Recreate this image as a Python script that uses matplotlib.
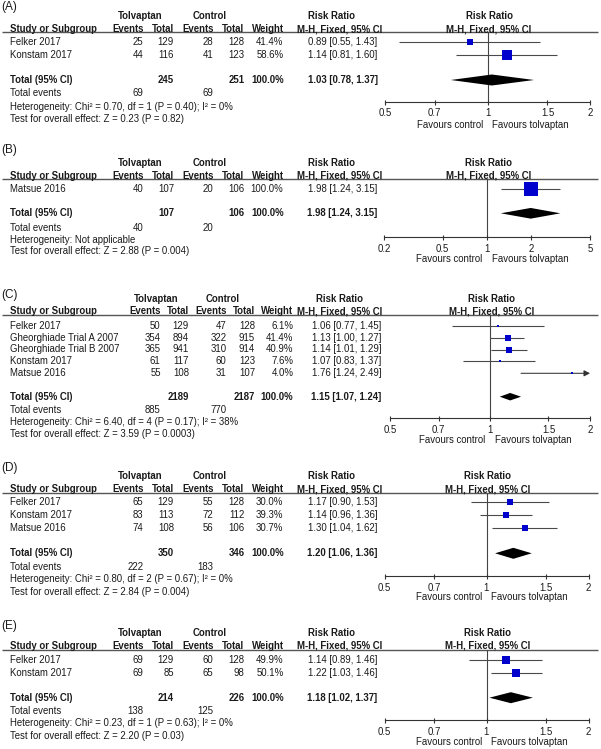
import matplotlib
matplotlib.use('Agg')
import matplotlib.pyplot as plt
from matplotlib.transforms import blended_transform_factory, offset_copy

plt.rcParams['font.family'] = ['Liberation Sans', 'DejaVu Sans']

# ---------------- data ----------------
A_studies = ['Felker 2017', 'Konstam 2017']
A_tol_events = [25, 44]
A_tol_total = [129, 116]
A_ctl_events = [28, 41]
A_ctl_total = [128, 123]
A_weight = [41.4, 58.6]
A_rr = [0.89, 1.14]
A_lo = [0.55, 0.81]
A_hi = [1.43, 1.60]
A_sum_totals = [245, 251]
A_pooled = [1.03, 0.78, 1.37]
A_sum_events = [69, 69]
A_het = 'Heterogeneity: Chi² = 0.70, df = 1 (P = 0.40); I² = 0%'
A_test = 'Test for overall effect: Z = 0.23 (P = 0.82)'
A_ticks = [0.5, 0.7, 1, 1.5, 2]
A_ticklabels = ['0.5', '0.7', '1', '1.5', '2']

B_studies = ['Matsue 2016']
B_tol_events = [40]
B_tol_total = [107]
B_ctl_events = [20]
B_ctl_total = [106]
B_weight = [100.0]
B_rr = [1.98]
B_lo = [1.24]
B_hi = [3.15]
B_sum_totals = [107, 106]
B_pooled = [1.98, 1.24, 3.15]
B_sum_events = [40, 20]
B_het = 'Heterogeneity: Not applicable'
B_test = 'Test for overall effect: Z = 2.88 (P = 0.004)'
B_ticks = [0.2, 0.5, 1, 2, 5]
B_ticklabels = ['0.2', '0.5', '1', '2', '5']

C_studies = ['Felker 2017', 'Gheorghiade Trial A 2007', 'Gheorghiade Trial B 2007',
             'Konstam 2017', 'Matsue 2016']
C_tol_events = [50, 354, 365, 61, 55]
C_tol_total = [129, 894, 941, 117, 108]
C_ctl_events = [47, 322, 310, 60, 31]
C_ctl_total = [128, 915, 914, 123, 107]
C_weight = [6.1, 41.4, 40.9, 7.6, 4.0]
C_rr = [1.06, 1.13, 1.14, 1.07, 1.76]
C_lo = [0.77, 1.00, 1.01, 0.83, 1.24]
C_hi = [1.45, 1.27, 1.29, 1.37, 2.49]
C_sum_totals = [2189, 2187]
C_pooled = [1.15, 1.07, 1.24]
C_sum_events = [885, 770]
C_het = 'Heterogeneity: Chi² = 6.40, df = 4 (P = 0.17); I² = 38%'
C_test = 'Test for overall effect: Z = 3.59 (P = 0.0003)'
C_ticks = [0.5, 0.7, 1, 1.5, 2]
C_ticklabels = ['0.5', '0.7', '1', '1.5', '2']

D_studies = ['Felker 2017', 'Konstam 2017', 'Matsue 2016']
D_tol_events = [65, 83, 74]
D_tol_total = [129, 113, 108]
D_ctl_events = [55, 72, 56]
D_ctl_total = [128, 112, 106]
D_weight = [30.0, 39.3, 30.7]
D_rr = [1.17, 1.14, 1.30]
D_lo = [0.90, 0.96, 1.04]
D_hi = [1.53, 1.36, 1.62]
D_sum_totals = [350, 346]
D_pooled = [1.20, 1.06, 1.36]
D_sum_events = [222, 183]
D_het = 'Heterogeneity: Chi² = 0.80, df = 2 (P = 0.67); I² = 0%'
D_test = 'Test for overall effect: Z = 2.84 (P = 0.004)'
D_ticks = [0.5, 0.7, 1, 1.5, 2]
D_ticklabels = ['0.5', '0.7', '1', '1.5', '2']

E_studies = ['Felker 2017', 'Konstam 2017']
E_tol_events = [69, 69]
E_tol_total = [129, 85]
E_ctl_events = [60, 65]
E_ctl_total = [128, 98]
E_weight = [49.9, 50.1]
E_rr = [1.14, 1.22]
E_lo = [0.89, 1.03]
E_hi = [1.46, 1.46]
E_sum_totals = [214, 226]
E_pooled = [1.18, 1.02, 1.37]
E_sum_events = [138, 125]
E_het = 'Heterogeneity: Chi² = 0.23, df = 1 (P = 0.63); I² = 0%'
E_test = 'Test for overall effect: Z = 2.20 (P = 0.03)'
E_ticks = [0.5, 0.7, 1, 1.5, 2]
E_ticklabels = ['0.5', '0.7', '1', '1.5', '2']

# ---------------- layout (pixels) ----------------
W, H = 601, 749
FS = 6.9
TXT = '#1a1a1a'
BLUE = '#0000CC'

cols_std = dict(te=143.5, tt=174, ce=213.5, ct=244.5, w=283.5, ci=377.5, mh=382,
                tolh=140, ctlh=209.3, rrh=331)
cols_wide = dict(te=160.7, tt=189, ce=226.7, ct=255, w=293.3, ci=381.7, mh=382,
                 tolh=156, ctlh=222.5, rrh=339)

panels = [
    dict(tag='(A)', studies=A_studies, te=A_tol_events, tt=A_tol_total, ce=A_ctl_events,
         ct=A_ctl_total, w=A_weight, rr=A_rr, lo=A_lo, hi=A_hi, tot=A_sum_totals,
         pooled=A_pooled, ev=A_sum_events, het=A_het, test=A_test, ticks=A_ticks,
         tl=A_ticklabels, cols=cols_std,
         label_y=7, head_y=15.7, sub_y=29, line_y=32.3, row0=42.3, step=12.7,
         total_y=80, tev_y=93.3, het_y=107.3, test_y=119.3, axis_y=101.7, fav_y=125,
         fx0=385, fx1=590, dh=11),
    dict(tag='(B)', studies=B_studies, te=B_tol_events, tt=B_tol_total, ce=B_ctl_events,
         ct=B_ctl_total, w=B_weight, rr=B_rr, lo=B_lo, hi=B_hi, tot=B_sum_totals,
         pooled=B_pooled, ev=B_sum_events, het=B_het, test=B_test, ticks=B_ticks,
         tl=B_ticklabels, cols=cols_std,
         label_y=150, head_y=162.7, sub_y=176, line_y=179.3, row0=189.3, step=12.7,
         total_y=213.3, tev_y=228, het_y=240, test_y=251.3, axis_y=237.3, fav_y=258.7,
         fx0=384, fx1=590, dh=10.7),
    dict(tag='(C)', studies=C_studies, te=C_tol_events, tt=C_tol_total, ce=C_ctl_events,
         ct=C_ctl_total, w=C_weight, rr=C_rr, lo=C_lo, hi=C_hi, tot=C_sum_totals,
         pooled=C_pooled, ev=C_sum_events, het=C_het, test=C_test, ticks=C_ticks,
         tl=C_ticklabels, cols=cols_wide,
         label_y=295, head_y=299, sub_y=311, line_y=315, row0=325.7, step=11.9,
         total_y=396.7, tev_y=410, het_y=421.7, test_y=433.7, axis_y=418.3, fav_y=440,
         fx0=390, fx1=590, dh=7.5),
    dict(tag='(D)', studies=D_studies, te=D_tol_events, tt=D_tol_total, ce=D_ctl_events,
         ct=D_ctl_total, w=D_weight, rr=D_rr, lo=D_lo, hi=D_hi, tot=D_sum_totals,
         pooled=D_pooled, ev=D_sum_events, het=D_het, test=D_test, ticks=D_ticks,
         tl=D_ticklabels, cols=cols_std,
         label_y=468.3, head_y=476, sub_y=489.3, line_y=492.7, row0=502.3, step=12.7,
         total_y=553.3, tev_y=567.3, het_y=579.3, test_y=591.7, axis_y=576, fav_y=597,
         fx0=384.5, fx1=588.5, dh=11),
    dict(tag='(E)', studies=E_studies, te=E_tol_events, tt=E_tol_total, ce=E_ctl_events,
         ct=E_ctl_total, w=E_weight, rr=E_rr, lo=E_lo, hi=E_hi, tot=E_sum_totals,
         pooled=E_pooled, ev=E_sum_events, het=E_het, test=E_test, ticks=E_ticks,
         tl=E_ticklabels, cols=cols_std,
         label_y=626, head_y=633.3, sub_y=646, line_y=650, row0=660, step=12.7,
         total_y=697.7, tev_y=711, het_y=723.3, test_y=736, axis_y=720, fav_y=741.7,
         fx0=384.5, fx1=588.5, dh=11),
]

fig = plt.figure(figsize=(W / 100, H / 100), dpi=100)
bg = fig.add_axes([0, 0, 1, 1])
bg.set_xlim(0, W)
bg.set_ylim(H, 0)
bg.axis('off')


def t(x, y, s, ha='left', bold=False, size=FS):
    bg.text(x, y, s, ha=ha, va='center', fontsize=size, color=TXT,
            fontweight='bold' if bold else 'normal')


for p in panels:
    c = p['cols']
    # titles
    t(1, p['label_y'], p['tag'], size=8.5)
    t(c['tolh'], p['head_y'], 'Tolvaptan', ha='center', bold=True)
    t(c['ctlh'], p['head_y'], 'Control', ha='center', bold=True)
    t(c['rrh'], p['head_y'], 'Risk Ratio', ha='center', bold=True)
    mid = (p['fx0'] + p['fx1']) / 2 + 1.5
    t(mid, p['head_y'], 'Risk Ratio', ha='center', bold=True)
    # sub header
    t(10, p['sub_y'], 'Study or Subgroup', bold=True)
    t(c['te'], p['sub_y'], 'Events', ha='right', bold=True)
    t(c['tt'], p['sub_y'], 'Total', ha='right', bold=True)
    t(c['ce'], p['sub_y'], 'Events', ha='right', bold=True)
    t(c['ct'], p['sub_y'], 'Total', ha='right', bold=True)
    t(c['w'], p['sub_y'], 'Weight', ha='right', bold=True)
    t(c['mh'], p['sub_y'], 'M-H, Fixed, 95% CI', ha='right', bold=True)
    t(mid, p['sub_y'], 'M-H, Fixed, 95% CI', ha='center', bold=True)
    bg.plot([2, 598], [p['line_y'], p['line_y']], color='#555555', lw=1.0,
            solid_capstyle='butt')
    # study rows
    n = len(p['studies'])
    ys = [p['row0'] + i * p['step'] for i in range(n)]
    for i in range(n):
        y = ys[i]
        t(10, y, p['studies'][i])
        t(c['te'], y, str(p['te'][i]), ha='right')
        t(c['tt'], y, str(p['tt'][i]), ha='right')
        t(c['ce'], y, str(p['ce'][i]), ha='right')
        t(c['ct'], y, str(p['ct'][i]), ha='right')
        t(c['w'], y, f"{p['w'][i]:.1f}%", ha='right')
        t(c['ci'], y, f"{p['rr'][i]:.2f} [{p['lo'][i]:.2f}, {p['hi'][i]:.2f}]", ha='right')
    # totals
    pr, pl, ph = p['pooled']
    t(10, p['total_y'], 'Total (95% CI)', bold=True)
    t(c['tt'], p['total_y'], str(p['tot'][0]), ha='right', bold=True)
    t(c['ct'], p['total_y'], str(p['tot'][1]), ha='right', bold=True)
    t(c['w'], p['total_y'], f"{sum(p['w']):.1f}%", ha='right', bold=True)
    t(c['ci'], p['total_y'], f"{pr:.2f} [{pl:.2f}, {ph:.2f}]", ha='right', bold=True)
    t(10, p['tev_y'], 'Total events')
    t(c['te'], p['tev_y'], str(p['ev'][0]), ha='right')
    t(c['ce'], p['tev_y'], str(p['ev'][1]), ha='right')
    t(10, p['het_y'], p['het'])
    t(10, p['test_y'], p['test'])

    # forest axes
    ax = fig.add_axes([p['fx0'] / W, 1 - p['axis_y'] / H,
                       (p['fx1'] - p['fx0']) / W, (p['axis_y'] - p['line_y']) / H])
    ax.patch.set_alpha(0)
    ax.set_xscale('log')
    lo_lim, hi_lim = p['ticks'][0], p['ticks'][-1]
    ax.set_xlim(lo_lim, hi_lim)
    ax.set_ylim(p['axis_y'], p['line_y'])
    for s in ['top', 'left', 'right']:
        ax.spines[s].set_visible(False)
    ax.spines['bottom'].set_color('#333333')
    ax.spines['bottom'].set_linewidth(0.8)
    ax.set_yticks([])
    ax.set_xticks(p['ticks'])
    ax.set_xticklabels(p['tl'])
    ax.xaxis.set_minor_locator(matplotlib.ticker.NullLocator())
    ax.tick_params(axis='x', direction='inout', length=3.6, width=0.8, color='#333333',
                   pad=3.0, labelsize=FS, labelcolor=TXT)
    ax.axvline(1, color='#444444', lw=0.8, zorder=1)
    for i in range(n):
        y = ys[i]
        hi_v = min(p['hi'][i], hi_lim)
        lo_v = max(p['lo'][i], lo_lim)
        if p['hi'][i] > hi_lim:
            ax.annotate('', xy=(hi_v, y), xytext=(lo_v, y),
                        arrowprops=dict(arrowstyle='-|>,head_length=0.35,head_width=0.18',
                                        color='#333333', lw=0.75, shrinkA=0, shrinkB=0),
                        annotation_clip=False)
        else:
            ax.plot([lo_v, hi_v], [y, y], color='#4a4a4a', lw=0.8, zorder=2,
                    solid_capstyle='butt', clip_on=False)
        side_px = 1.5 + 0.13 * p['w'][i]
        ax.scatter([p['rr'][i]], [y], marker='s', s=(side_px * 0.72) ** 2, color=BLUE,
                   linewidths=0, zorder=3, clip_on=False)
    dh = p['dh']
    ax.fill([pl, pr, ph, pr], [p['total_y'], p['total_y'] - dh / 2, p['total_y'],
                               p['total_y'] + dh / 2], color='black', lw=0, zorder=3)
    # favours labels
    tr = blended_transform_factory(ax.transData, bg.transData)
    ax.text(1, p['fav_y'], 'Favours control', ha='right', va='center', fontsize=FS,
            color=TXT, transform=offset_copy(tr, fig=fig, x=-3.3, units='points'))
    ax.text(1, p['fav_y'], 'Favours tolvaptan', ha='left', va='center', fontsize=FS,
            color=TXT, transform=offset_copy(tr, fig=fig, x=3.5, units='points'))

fig.savefig('out.png', dpi=100)
